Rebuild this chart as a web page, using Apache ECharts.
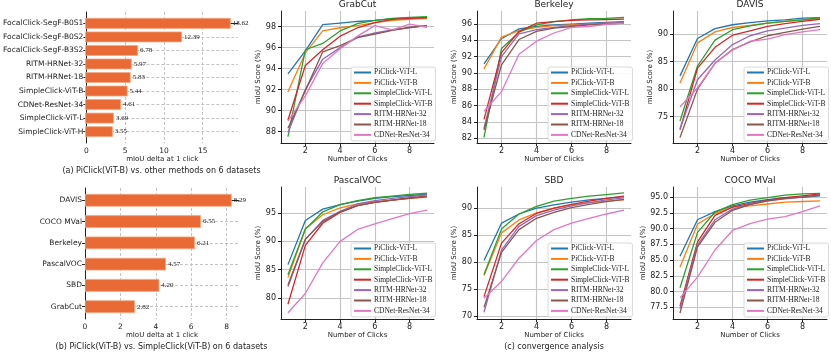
<!DOCTYPE html>
<html>
<head>
<meta charset="utf-8">
<script src="https://cdn.jsdelivr.net/npm/echarts@6/dist/echarts.min.js"></script>
<style>
html, body { margin: 0; padding: 0; background: #fff; }
#chart { width: 831px; height: 353px; }
</style>
</head>
<body>
<div id="chart"></div>
<script>
// (a) / (b) bar data
const methodsA = ['FocalClick-SegF-B0S1', 'FocalClick-SegF-B0S2', 'FocalClick-SegF-B3S2', 'RITM-HRNet-32',
  'RITM-HRNet-18', 'SimpleClick-ViT-B', 'CDNet-ResNet-34', 'SimpleClick-ViT-L', 'SimpleClick-ViT-H'];
const deltaA = [18.62, 12.39, 6.78, 5.97, 5.83, 5.44, 4.61, 3.69, 3.55];
const ticksA = [0, 5, 10, 15];
const datasetsB = ['DAVIS', 'COCO MVal', 'Berkeley', 'PascalVOC', 'SBD', 'GrabCut'];
const deltaB = [8.29, 6.55, 6.21, 4.57, 4.20, 2.82];
const ticksB = [0, 2, 4, 6, 8];

// (c) convergence curves, rows in the order of lineNames
const clicks = [1, 2, 3, 4, 5, 6, 7, 8, 9];
const lineNames = ['PiClick-ViT-L', 'PiClick-ViT-B', 'SimpleClick-ViT-L', 'SimpleClick-ViT-B',
  'RITM-HRNet-32', 'RITM-HRNet-18', 'CDNet-ResNet-34'];
const grabcut = [
  [93.5, 95.7, 98.2, 98.35, 98.5, 98.6, 98.75, 98.85, 98.9],
  [91.8, 95.5, 97.6, 97.9, 98.1, 98.4, 98.6, 98.7, 98.8],
  [87.5, 95.8, 96.4, 97.6, 98.3, 98.6, 98.8, 98.9, 98.95],
  [89.1, 94.3, 95.8, 97.1, 97.9, 98.4, 98.7, 98.8, 98.85],
  [87.9, 92.0, 94.9, 96.0, 97.0, 97.4, 97.7, 97.9, 98.1],
  [88.3, 91.9, 95.6, 96.2, 96.95, 97.3, 97.65, 97.95, 98.1],
  [89.0, 91.4, 94.5, 95.9, 97.1, 98.1, 97.7, 98.25, 97.95]
];
const berkeley = [
  [91.1, 94.2, 95.4, 95.7, 95.9, 96.0, 96.1, 96.2, 96.3],
  [90.5, 94.4, 95.2, 95.6, 95.8, 95.9, 96.0, 96.1, 96.2],
  [82.1, 93.0, 95.0, 95.9, 96.3, 96.5, 96.65, 96.7, 96.8],
  [84.3, 92.5, 95.1, 96.1, 96.3, 96.45, 96.5, 96.55, 96.6],
  [83.2, 92.0, 94.8, 95.3, 95.6, 95.8, 96.0, 96.1, 96.2],
  [83.0, 91.0, 94.1, 95.1, 95.5, 95.7, 95.9, 96.0, 96.1],
  [85.3, 87.7, 92.3, 93.9, 94.9, 95.6, 95.7, 95.95, 96.1]
];
const davis = [
  [82.4, 89.2, 91.0, 91.7, 92.1, 92.4, 92.6, 92.9, 93.0],
  [81.1, 88.4, 90.4, 91.2, 91.6, 92.0, 92.3, 92.6, 92.8],
  [74.2, 84.2, 88.9, 90.8, 91.5, 92.0, 92.3, 92.6, 93.0],
  [72.6, 83.8, 87.6, 89.8, 90.6, 91.4, 91.9, 92.3, 92.7],
  [72.8, 81.7, 85.3, 88.1, 89.7, 90.6, 91.1, 91.6, 91.9],
  [71.2, 80.0, 84.7, 87.2, 88.6, 89.7, 90.3, 90.9, 91.4],
  [76.8, 80.2, 84.7, 87.1, 88.7, 89.1, 89.9, 90.4, 90.8]
];
const pascal = [
  [85.9, 93.7, 95.7, 96.5, 97.1, 97.6, 97.9, 98.1, 98.3],
  [83.6, 92.2, 94.7, 95.9, 96.6, 97.0, 97.3, 97.6, 97.8],
  [84.1, 92.2, 95.2, 96.5, 97.2, 97.7, 98.0, 98.3, 98.5],
  [78.9, 89.3, 93.2, 95.1, 96.3, 96.9, 97.3, 97.7, 98.0],
  [82.0, 90.3, 93.7, 95.3, 96.6, 97.2, 97.6, 97.9, 98.2],
  [82.3, 90.4, 93.5, 95.2, 96.3, 96.9, 97.3, 97.6, 97.9],
  [77.4, 80.8, 86.2, 90.0, 92.1, 93.1, 94.0, 94.9, 95.5]
];
const sbd = [
  [80.3, 87.2, 88.9, 90.0, 90.6, 91.1, 91.5, 91.8, 92.1],
  [77.5, 85.4, 87.8, 89.1, 90.0, 90.6, 91.0, 91.3, 91.5],
  [77.7, 86.1, 88.9, 90.3, 91.3, 91.8, 92.2, 92.5, 92.8],
  [73.6, 83.5, 87.1, 89.0, 90.0, 90.7, 91.3, 91.8, 92.2],
  [70.7, 82.2, 86.6, 88.6, 89.6, 90.4, 91.0, 91.5, 91.9],
  [71.6, 81.8, 86.0, 88.1, 89.2, 90.1, 90.7, 91.2, 91.6],
  [73.3, 76.4, 80.7, 84.0, 86.0, 87.2, 88.1, 88.9, 89.6]
];
const coco = [
  [85.6, 91.4, 92.7, 93.6, 94.2, 94.6, 94.9, 95.0, 95.2],
  [83.9, 90.7, 92.4, 93.4, 93.6, 93.9, 94.2, 94.3, 94.4],
  [80.6, 89.4, 92.6, 93.8, 94.5, 94.9, 95.3, 95.5, 95.6],
  [77.7, 87.9, 92.1, 93.4, 94.0, 94.5, 94.9, 95.2, 95.5],
  [77.3, 87.4, 91.4, 93.1, 93.9, 94.4, 94.7, 95.0, 95.3],
  [76.6, 87.1, 91.0, 92.9, 93.8, 94.4, 94.8, 95.0, 95.3],
  [79.0, 82.3, 86.6, 89.7, 90.8, 91.5, 91.9, 92.7, 93.6]
];
const clickTicks = [2, 4, 6, 8];
const grabcutTicks = [88, 90, 92, 94, 96, 98];
const berkeleyTicks = [82, 84, 86, 88, 90, 92, 94, 96];
const davisTicks = [75, 80, 85, 90];
const pascalTicks = [80, 85, 90, 95];
const sbdTicks = [70, 75, 80, 85, 90];
const cocoTicks = [77.5, 80, 82.5, 85, 87.5, 90, 92.5, 95];

const SANS = 'DejaVu Sans';
const SERIF = 'Liberation Serif';
const INK = '#222';
const lineColors = ['#1f77b4', '#ff7f0e', '#2ca02c', '#d62728', '#9467bd', '#8c564b', '#e377c2'];
const barColor = '#e96a35';

const grid = [], xAxis = [], yAxis = [], series = [], legend = [], graphic = [];

function axisBase() {
  return {
    axisLine: { show: true, lineStyle: { color: INK, width: 1 } },
    axisTick: { show: true, length: 3, lineStyle: { color: INK } },
    axisLabel: { fontFamily: SANS, fontSize: 7.5, color: INK },
    nameTextStyle: { fontFamily: SANS, fontSize: 7, color: INK }
  };
}

// horizontal bar panel: a frame grid (spines, ticks, grid lines) + a bar grid
function barPanel(names, values, xticks, box, xmax, pad, barFrac) {
  const n = names.length;
  const unit = box.height / (n - 1 + 2 * pad);
  const idx = names.map((d, i) => i);
  const dash = { show: true, lineStyle: { color: '#b5b5b5', width: 0.8, type: [3, 2] } };

  let g = grid.length;
  grid.push({ left: box.left, top: box.top, width: box.width, height: box.height });
  const xa = Object.assign(axisBase(), {
    type: 'value', gridIndex: g, min: 0, max: xmax,
    splitLine: dash, name: 'mIoU delta at 1 click', nameLocation: 'middle', nameGap: 13
  });
  xa.axisTick.customValues = xticks;
  xa.axisLabel.customValues = xticks;
  xa.axisLabel.margin = 4;
  xAxis.push(xa);
  const ya = Object.assign(axisBase(), {
    type: 'value', gridIndex: g, inverse: true, min: -pad, max: n - 1 + pad, splitLine: dash
  });
  ya.axisTick.customValues = idx;
  ya.axisLabel.customValues = idx;
  ya.axisLabel.formatter = v => names[Math.round(v)];
  ya.axisLabel.margin = 3;
  yAxis.push(ya);

  g = grid.length;
  grid.push({ left: box.left, top: box.top + (pad - 0.5) * unit, width: box.width, height: n * unit });
  xAxis.push({ type: 'value', gridIndex: g, min: 0, max: xmax, show: false });
  yAxis.push({ type: 'category', gridIndex: g, inverse: true, data: names, show: false });
  series.push({
    type: 'bar', xAxisIndex: g, yAxisIndex: g,
    data: values, barWidth: barFrac * unit, z: 3,
    itemStyle: { color: barColor, borderColor: '#f3a985', borderWidth: 0.8 },
    label: {
      show: true, position: 'right', distance: 2, fontFamily: SERIF, fontSize: 7, color: INK,
      formatter: p => p.value.toFixed(2)
    }
  });
}

function linePanel(title, rows, ticks, ymin, ymax, box, fmt) {
  const g = grid.length;
  const gl = { show: true, lineStyle: { color: '#c4c4c4', width: 1.1 } };
  grid.push({ left: box.left, top: box.top, width: box.width, height: box.height });
  const xa = Object.assign(axisBase(), {
    type: 'value', gridIndex: g, min: 0.6, max: 9.4, splitLine: gl,
    name: 'Number of Clicks', nameLocation: 'middle', nameGap: 13
  });
  xa.axisTick.customValues = clickTicks;
  xa.axisLabel.customValues = clickTicks;
  xa.axisLabel.fontSize = 8;
  xa.axisLabel.margin = 4;
  xAxis.push(xa);
  const ya = Object.assign(axisBase(), {
    type: 'value', gridIndex: g, min: ymin, max: ymax, splitLine: gl,
    name: 'mIoU Score (%)', nameLocation: 'middle', nameGap: fmt ? 22 : 15
  });
  ya.axisTick.customValues = ticks;
  ya.axisLabel.customValues = ticks;
  ya.axisLabel.fontSize = 8;
  ya.axisLabel.margin = 5;
  if (fmt) ya.axisLabel.formatter = v => v.toFixed(1);
  yAxis.push(ya);
  rows.forEach((r, k) => {
    series.push({
      type: 'line', name: lineNames[k], xAxisIndex: g, yAxisIndex: g,
      data: clicks.map((c, j) => [c, r[j]]), symbol: 'none', color: lineColors[k],
      lineStyle: { width: 1.3 }, z: 3
    });
  });
  legend.push({
    data: lineNames, orient: 'vertical', left: box.left + box.width - 83, top: box.top + 56,
    icon: 'rect', itemWidth: 17, itemHeight: 2, itemGap: 2.4,
    padding: [1.5, 3, 2, 3], backgroundColor: 'rgba(255,255,255,0.9)',
    borderColor: '#d0d0d0', borderWidth: 0.8, borderRadius: 2,
    textStyle: { fontFamily: SERIF, fontSize: 7.5, color: INK, lineHeight: 8, padding: [0, 0, 0, -2] }
  });
  graphic.push({
    type: 'text', x: box.left + box.width / 2, y: box.top - 6,
    style: { text: title, font: '9px "DejaVu Sans"', fill: INK, align: 'center', verticalAlign: 'middle' }
  });
}

barPanel(methodsA, deltaA, ticksA, { left: 85, top: 12, width: 153, height: 131 }, 19.55, 0.84, 0.8);
barPanel(datasetsB, deltaB, ticksB, { left: 85, top: 188, width: 154, height: 131 }, 8.70, 0.58, 0.6);

linePanel('GrabCut', grabcut, grabcutTicks, 86.9, 99.5, { left: 281, top: 11, width: 153, height: 132 });
linePanel('Berkeley', berkeley, berkeleyTicks, 81.4, 97.6, { left: 477, top: 11, width: 154, height: 132 });
linePanel('DAVIS', davis, davisTicks, 70.2, 94.2, { left: 673, top: 11, width: 154, height: 132 });
linePanel('PascalVOC', pascal, pascalTicks, 76.3, 99.6, { left: 281, top: 187, width: 153, height: 132 });
linePanel('SBD', sbd, sbdTicks, 69.45, 93.9, { left: 477, top: 187, width: 154, height: 132 });
linePanel('COCO MVal', coco, cocoTicks, 75.65, 96.6, { left: 673, top: 187, width: 154, height: 132 }, true);

const capFont = '8px "DejaVu Sans"';
graphic.push(
  { type: 'text', x: 161.5, y: 171, style: { text: '(a) PiClick(ViT-B) vs. other methods on 6 datasets', font: capFont, fill: INK, align: 'center', verticalAlign: 'middle' } },
  { type: 'text', x: 161.5, y: 347, style: { text: '(b) PiClick(ViT-B) vs. SimpleClick(ViT-B) on 6 datasets', font: capFont, fill: INK, align: 'center', verticalAlign: 'middle' } },
  { type: 'text', x: 554, y: 347, style: { text: '(c) convergence analysis', font: capFont, fill: INK, align: 'center', verticalAlign: 'middle' } }
);

const chart = echarts.init(document.getElementById('chart'), null, { renderer: 'canvas' });
chart.setOption({
  animation: false,
  backgroundColor: '#fff',
  grid: grid, xAxis: xAxis, yAxis: yAxis, series: series, legend: legend, graphic: graphic
});
</script>
</body>
</html>
